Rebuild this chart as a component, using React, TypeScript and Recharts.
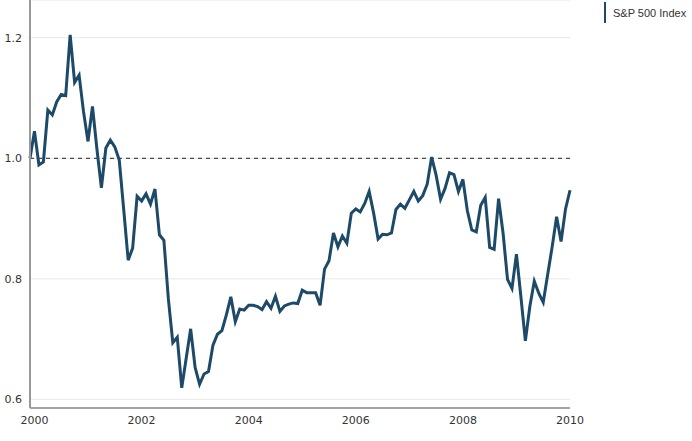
import React from "react";
import { LineChart, Line, XAxis, YAxis, CartesianGrid, ReferenceLine } from "recharts";

// Monthly values, Dec 1999 .. Jan 2010 (normalised to 1.0 at start)
const sp500: number[] = [
  1.000, 1.045, 0.989, 0.994, 1.080, 1.072, 1.094, 1.106, 1.104, 1.205,
  1.126, 1.138, 1.077, 1.028, 1.086, 1.015, 0.951, 1.017, 1.030, 1.019,
  0.997, 0.915, 0.831, 0.851, 0.937, 0.929, 0.941, 0.924, 0.949, 0.873,
  0.864, 0.767, 0.694, 0.703, 0.619, 0.668, 0.717, 0.653, 0.625, 0.642,
  0.646, 0.690, 0.708, 0.714, 0.740, 0.770, 0.729, 0.750, 0.748, 0.756,
  0.756, 0.754, 0.749, 0.762, 0.751, 0.771, 0.746, 0.755, 0.758, 0.760,
  0.759, 0.781, 0.777, 0.777, 0.777, 0.756, 0.816, 0.830, 0.876, 0.853,
  0.871, 0.859, 0.909, 0.916, 0.911, 0.925, 0.945, 0.909, 0.866, 0.874,
  0.873, 0.876, 0.915, 0.924, 0.917, 0.931, 0.945, 0.929, 0.938, 0.957,
  1.002, 0.972, 0.932, 0.950, 0.976, 0.973, 0.945, 0.965, 0.913, 0.881,
  0.878, 0.922, 0.935, 0.852, 0.849, 0.933, 0.876, 0.799, 0.784, 0.841,
  0.770, 0.697, 0.754, 0.796, 0.776, 0.761, 0.807, 0.853, 0.903, 0.862,
  0.916, 0.947,
];

const startYear = 1999;
const startMonth = 11; // December (0-based)
const months: string[] = sp500.map((_, i) => {
  const t = startYear * 12 + startMonth + i;
  return `${Math.floor(t / 12)}-${String((t % 12) + 1).padStart(2, "0")}`;
});

const yearLabels: string[] = ["2000", "2002", "2004", "2006", "2008", "2010"];
const yTicks: number[] = [0.6, 0.8, 1.0, 1.2];
const seriesName = "S&P 500 Index";
const baseline = 1.0;

const data = sp500.map((v, i) => ({ m: i, month: months[i], value: v }));
const xTicks = yearLabels.map((y) => months.indexOf(`${y}-01`));

const LINE_COLOR = "#1d4a68";
const TICK_FONT = "'DejaVu Sans', Verdana, sans-serif";

export default function App() {
  return (
    <div style={{ position: "absolute", left: 0, top: 0, width: 692, height: 441, background: "#fff" }}>
      <LineChart width={692} height={441} data={data} margin={{ top: 0, right: 122, bottom: 0, left: 0 }}>
        <CartesianGrid horizontal vertical={false} stroke="#e8e8e8" strokeWidth={1} />
        <XAxis
          dataKey="m"
          type="number"
          domain={[0, sp500.length - 1]}
          ticks={xTicks}
          tickFormatter={(v: number) => months[v].slice(0, 4)}
          height={33}
          axisLine={{ stroke: "#888", strokeWidth: 1.5 }}
          tickLine={false}
          tick={{ fill: "#333", fontSize: 11, fontFamily: TICK_FONT }}
          interval={0}
        />
        <YAxis
          type="number"
          domain={[0.5856, 1.2627]}
          allowDataOverflow
          ticks={yTicks}
          tickFormatter={(v: number) => v.toFixed(1)}
          width={30}
          axisLine={{ stroke: "#999", strokeWidth: 2 }}
          tickLine={false}
          tick={{ fill: "#333", fontSize: 11, fontFamily: TICK_FONT }}
          interval={0}
        />
        <ReferenceLine y={baseline} stroke="#222" strokeDasharray="4 4" strokeWidth={1} />
        <Line
          type="linear"
          dataKey="value"
          name={seriesName}
          stroke={LINE_COLOR}
          strokeWidth={3}
          dot={false}
          activeDot={false}
          isAnimationActive={false}
        />
      </LineChart>
      <div
        style={{
          position: "absolute",
          left: 604,
          top: 2,
          display: "flex",
          alignItems: "center",
          fontFamily: "'Liberation Sans', Arial, sans-serif",
          fontSize: 11,
          color: "#333",
          whiteSpace: "nowrap",
        }}
      >
        <div style={{ width: 2, height: 21, background: LINE_COLOR, marginRight: 7 }} />
        <span>{seriesName}</span>
      </div>
    </div>
  );
}
